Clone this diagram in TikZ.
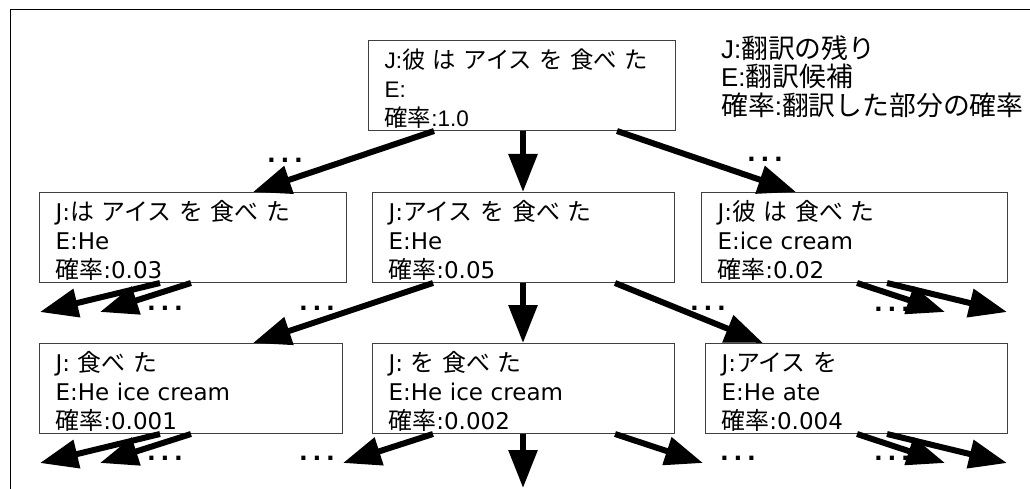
\documentclass[tikz,border=0pt]{standalone}
\usepackage{fontspec}
\setmainfont{DejaVu Sans}
\newfontfamily\libfont{Liberation Sans}
\newfontfamily\jpfont{Noto Sans CJK JP}[Scale=1.04]
\newcommand\ja[1]{{\jpfont #1}}
\newcommand\st{\rule{0pt}{25pt}}
\newcommand\tdots{.\hspace{4.8pt}.\hspace{4.8pt}.}
\usetikzlibrary{arrows.meta}
\tikzset{
  box/.style={draw=black!75, line width=1pt, anchor=north west, minimum height=90pt,
    inner xsep=16pt, inner ysep=0pt, align=left, font=\fontsize{23}{29}\selectfont},
  arr/.style={line width=6pt, -{Triangle[length=38pt,width=28pt]}},
  dotsnode/.style={anchor=base, inner sep=0pt, font=\bfseries\fontsize{23}{23}\selectfont},
  legend/.style={anchor=north west, inner sep=0pt, align=left, font=\libfont\fontsize{25.8}{28.5}\selectfont}
}
\begin{document}
\begin{tikzpicture}[x=1pt,y=-1pt]
\useasboundingbox (0,0) rectangle (1030,489);
\draw[line width=1pt] (10,489) -- (10,10) -- (1030,10);

% boxes
\node[box, text width=275pt, font=\libfont\fontsize{22.5}{29}\selectfont] (T) at (368,40)
  {\st J:\ja{彼} \ja{は} \ja{アイス} \ja{を} \ja{食べ} \ja{た}\\E:\\\ja{確率}:1.0};
\node[box, text width=275pt] (B1) at (39,192) {\st J:\ja{は} \ja{アイス} \ja{を} \ja{食べ} \ja{た}\\E:He\\\ja{確率}:0.03};
\node[box, text width=270pt] (B2) at (372,192) {\st J:\ja{アイス} \ja{を} \ja{食べ} \ja{た}\\E:He\\\ja{確率}:0.05};
\node[box, text width=274pt] (B3) at (701,192) {\st J:\ja{彼} \ja{は} \ja{食べ} \ja{た}\\E:ice cream\\\ja{確率}:0.02};
\node[box, text width=271pt] (C1) at (39,343) {\st J: \ja{食べ} \ja{た}\\E:He ice cream\\\ja{確率}:0.001};
\node[box, text width=270pt] (C2) at (372,343) {\st J: \ja{を} \ja{食べ} \ja{た}\\E:He ice cream\\\ja{確率}:0.002};
\node[box, text width=270pt] (C3) at (705,343) {\st J:\ja{アイス} \ja{を}\\E:He ate\\\ja{確率}:0.004};

% legend
\node[legend] (L) at (721,35) {J:\ja{翻訳の残り}\\E:\ja{翻訳候補}\\\ja{確率}:\ja{翻訳した部分の確率}};

% dots
\node[dotsnode] (d1) at (285,163) {\tdots};
\node[dotsnode] (d2) at (765,162) {\tdots};
\node[dotsnode] (d3) at (165,310) {\tdots};
\node[dotsnode] (d4) at (317,310) {\tdots};
\node[dotsnode] (d5) at (708,310) {\tdots};
\node[dotsnode] (d6) at (892,311) {\tdots};
\node[dotsnode] (d7) at (165,460) {\tdots};
\node[dotsnode] (d8) at (317,460) {\tdots};
\node[dotsnode] (d9) at (738,460) {\tdots};
\node[dotsnode] (d10) at (892,460) {\tdots};

% free ends
\coordinate (e1) at (40,312);
\coordinate (e2) at (100,312);
\coordinate (e3) at (945,312);
\coordinate (e4) at (1007,312);
\coordinate (f1) at (40,463);
\coordinate (f2) at (100,463);
\coordinate (f3) at (343,463);
\coordinate (f4) at (523,488);
\coordinate (f5) at (703,463);
\coordinate (f6) at (945,463);
\coordinate (f7) at (1007,463);

% arrows from top
\draw[arr] ([xshift=66pt]T.south west) -- ([xshift=214pt]B1.north west);
\draw[arr] ([xshift=155pt]T.south west) -- ([xshift=151pt]B2.north west);
\draw[arr] ([xshift=249pt]T.south west) -- ([xshift=95pt]B3.north west);

% arrows from row 1
\draw[arr] ([xshift=121pt]B1.south west) -- (e1);
\draw[arr] ([xshift=152pt]B1.south west) -- (e2);
\draw[arr] ([xshift=61pt]B2.south west) -- ([xshift=214pt]C1.north west);
\draw[arr] ([xshift=151pt]B2.south west) -- ([xshift=151pt]C2.north west);
\draw[arr] ([xshift=243pt]B2.south west) -- ([xshift=58pt]C3.north west);
\draw[arr] ([xshift=156pt]B3.south west) -- (e3);
\draw[arr] ([xshift=186pt]B3.south west) -- (e4);

% arrows from row 2
\draw[arr] ([xshift=121pt]C1.south west) -- (f1);
\draw[arr] ([xshift=152pt]C1.south west) -- (f2);
\draw[arr] ([xshift=61pt]C2.south west) -- (f3);
\draw[arr] ([xshift=151pt]C2.south west) -- (f4);
\draw[arr] ([xshift=243pt]C2.south west) -- (f5);
\draw[arr] ([xshift=152pt]C3.south west) -- (f6);
\draw[arr] ([xshift=182pt]C3.south west) -- (f7);
\end{tikzpicture}
\end{document}
